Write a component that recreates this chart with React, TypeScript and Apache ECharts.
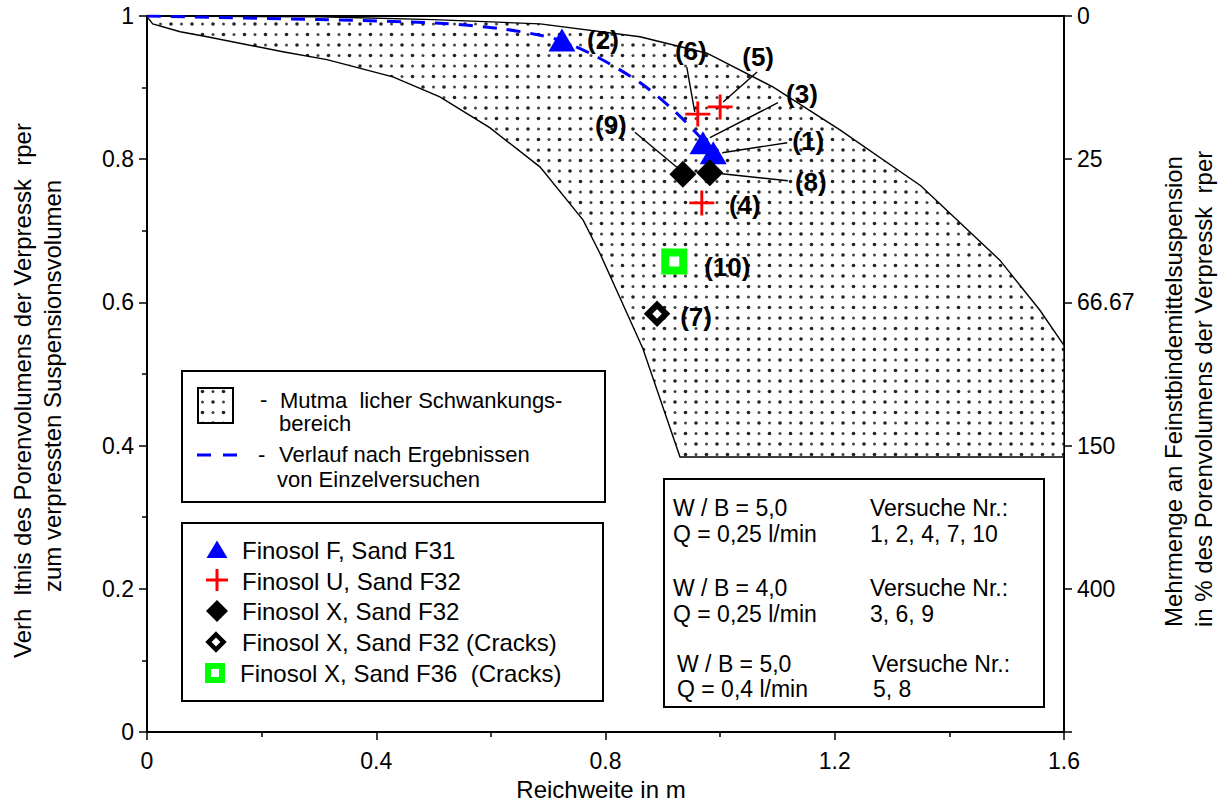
import React, { useEffect, useRef } from 'react';
import * as echarts from 'echarts';

// ---------- data ----------
// upper boundary of the probable scatter band (Schwankungsbereich)
const upperX = [0, 0.3, 0.5, 0.686, 0.86, 0.977, 1.092, 1.209, 1.35, 1.488, 1.558, 1.6];
const upperY = [1, 0.999, 0.995, 0.989, 0.971, 0.948, 0.901, 0.841, 0.763, 0.659, 0.589, 0.54];
// lower boundary of the band
const lowerX = [0, 0.002, 0.01, 0.058, 0.105, 0.237, 0.314, 0.429, 0.511, 0.598, 0.686, 0.761, 0.79, 0.865, 0.93];
const lowerY = [1, 0.997, 0.989, 0.978, 0.971, 0.95, 0.939, 0.915, 0.887, 0.844, 0.789, 0.715, 0.669, 0.536, 0.384];
const bandBottom = 0.384;

// dashed trend from single tests
const trendX = [0, 0.3, 0.51, 0.62, 0.686, 0.724, 0.785, 0.86, 0.918, 0.965, 0.975];
const trendY = [1, 0.995, 0.99, 0.982, 0.973, 0.965, 0.943, 0.907, 0.869, 0.831, 0.82];

// Finosol F, Sand F31 (tests 1, 2, 3)
const fNr = [1, 2, 3];
const fX = [0.988, 0.724, 0.97];
const fY = [0.809, 0.9665, 0.823];
// Finosol U, Sand F32 (tests 4, 5, 6)
const uNr = [4, 5, 6];
const uX = [0.968, 1.0, 0.961];
const uY = [0.739, 0.873, 0.863];
// Finosol X, Sand F32 (tests 8, 9)
const xNr = [8, 9];
const xX = [0.982, 0.935];
const xY = [0.781, 0.779];
// Finosol X, Sand F32 (Cracks) (test 7)
const xcNr = [7];
const xcX = [0.89];
const xcY = [0.584];
// Finosol X, Sand F36 (Cracks) (test 10)
const x36Nr = [10];
const x36X = [0.92];
const x36Y = [0.657];

const rightLabels = ['', '400', '150', '66.67', '25', '0'];

// ---------- layout of annotations (pixel offsets from the point) ----------
const annot: { nr: number; lx: number; ly: number; leader?: number[] }[] = [
  { nr: 1, lx: 95, ly: -12, leader: [74, -10, 9, 0] },
  { nr: 2, lx: 41, ly: 0 },
  { nr: 3, lx: 99, ly: -49, leader: [75, -40, 7, -5] },
  { nr: 4, lx: 43, ly: 2 },
  { nr: 5, lx: 38, ly: -50, leader: [37, -35, 3, -5] },
  { nr: 6, lx: -7, ly: -63, leader: [-11, -47, -3, -2] },
  { nr: 7, lx: 39, ly: 3 },
  { nr: 8, lx: 101, ly: 9, leader: [78, 8, 12, 1] },
  { nr: 9, lx: -72, ly: -49, leader: [-48, -42, -6, -7] },
  { nr: 10, lx: 53, ly: 5 },
];

const FONT = "'Liberation Sans', Arial, Helvetica, sans-serif";
const PLUS = 'path://M-1.5,-13H1.5V-1.5H13V1.5H1.5V13H-1.5V1.5H-13V-1.5H-1.5Z';

function makeDotPattern(): any {
  const c = document.createElement('canvas');
  c.width = 21;
  c.height = 21;
  const ctx = c.getContext('2d')!;
  ctx.fillStyle = '#ffffff';
  ctx.fillRect(0, 0, 21, 21);
  const dots: [number, number, number, string][] = [
    [3, 3, 1.8, '#222222'],
    [13.5, 3, 1.5, '#444444'],
    [3, 13.5, 1.5, '#444444'],
    [13.5, 13.5, 1.8, '#222222'],
  ];
  dots.forEach(([x, y, r, col]) => {
    ctx.fillStyle = col;
    ctx.beginPath();
    ctx.arc(x, y, r, 0, Math.PI * 2);
    ctx.fill();
  });
  return { image: c.toDataURL(), repeat: 'repeat', imageWidth: 21, imageHeight: 21 };
}

function txt(x: number, y: number, text: string, size: number, extra: any = {}) {
  return {
    type: 'text',
    x,
    y,
    silent: true,
    z: 100,
    ...extra,
    style: {
      text,
      fontSize: size,
      fontFamily: FONT,
      fill: '#000',
      align: 'left',
      verticalAlign: 'middle',
      ...(extra.style || {}),
    },
  };
}

export default function App() {
  const ref = useRef<HTMLDivElement>(null);

  useEffect(() => {
    if (!ref.current) return;
    const chart = echarts.init(ref.current, undefined, { renderer: 'svg' });
    const pattern = makeDotPattern();

    const polygon: number[][] = [];
    upperX.forEach((x, i) => polygon.push([x, upperY[i]]));
    polygon.push([upperX[upperX.length - 1], bandBottom]);
    for (let i = lowerX.length - 1; i >= 0; i--) polygon.push([lowerX[i], lowerY[i]]);

    const axisLineStyle = { color: '#000', width: 2 };
    const labelStyle = { color: '#000', fontSize: 23, fontFamily: FONT };

    chart.setOption({
      animation: false,
      grid: { left: 147, right: 154, top: 16, bottom: 71, show: true, borderColor: '#000', borderWidth: 2, backgroundColor: 'transparent' },
      xAxis: {
        type: 'value',
        min: 0,
        max: 1.6,
        interval: 0.4,
        axisLine: { show: true, lineStyle: axisLineStyle },
        axisTick: { show: true, length: 8, lineStyle: { color: '#000', width: 1.5 } },
        minorTick: { show: true, splitNumber: 2, length: 5, lineStyle: { color: '#000', width: 1.5 } },
        splitLine: { show: false },
        axisLabel: { ...labelStyle, margin: 17 },
      },
      yAxis: [
        {
          type: 'value',
          min: 0,
          max: 1,
          interval: 0.2,
          position: 'left',
          axisLine: { show: true, lineStyle: axisLineStyle },
          axisTick: { show: true, length: 8, lineStyle: { color: '#000', width: 1.5 } },
          minorTick: { show: true, splitNumber: 2, length: 5, lineStyle: { color: '#000', width: 1.5 } },
          splitLine: { show: false },
          axisLabel: { ...labelStyle, margin: 13 },
        },
        {
          type: 'value',
          min: 0,
          max: 1,
          interval: 0.2,
          position: 'right',
          axisLine: { show: true, lineStyle: axisLineStyle },
          axisTick: { show: true, length: 8, lineStyle: { color: '#000', width: 1.5 } },
          splitLine: { show: false },
          axisLabel: {
            ...labelStyle,
            margin: 13,
            formatter: (v: number) => rightLabels[Math.round(v / 0.2)] ?? '',
          },
        },
      ],
      series: [
        {
          type: 'custom',
          name: 'band',
          coordinateSystem: 'cartesian2d',
          silent: true,
          z: 1,
          data: [[0, 0]],
          renderItem: (_params: any, api: any) => ({
            type: 'polygon',
            shape: { points: polygon.map((p) => api.coord(p)) },
            style: { fill: pattern, stroke: '#000', lineWidth: 1.4 },
          }),
        },
        {
          type: 'line',
          name: 'trend',
          data: trendX.map((x, i) => [x, trendY[i]]),
          smooth: 0.3,
          showSymbol: false,
          symbol: 'none',
          z: 3,
          lineStyle: { color: '#0000ff', width: 3, type: [14, 10] },
        },
        {
          type: 'scatter',
          name: 'Finosol F, Sand F31',
          data: fX.map((x, i) => [x, fY[i]]),
          symbol: 'triangle',
          symbolSize: [27, 23],
          z: 5,
          itemStyle: { color: '#0000ff', opacity: 1 },
        },
        {
          type: 'scatter',
          name: 'Finosol U, Sand F32',
          data: uX.map((x, i) => [x, uY[i]]),
          symbol: PLUS,
          symbolSize: 25,
          z: 5,
          itemStyle: { color: '#ff0000', opacity: 1 },
        },
        {
          type: 'scatter',
          name: 'Finosol X, Sand F32',
          data: xX.map((x, i) => [x, xY[i]]),
          symbol: 'diamond',
          symbolSize: 27,
          z: 5,
          itemStyle: { color: '#000', opacity: 1 },
        },
        {
          type: 'scatter',
          name: 'Finosol X, Sand F32 (Cracks)',
          data: xcX.map((x, i) => [x, xcY[i]]),
          symbol: 'diamond',
          symbolSize: 18,
          z: 5,
          itemStyle: { color: '#fff', borderColor: '#000', borderWidth: 6, opacity: 1 },
        },
        {
          type: 'scatter',
          name: 'Finosol X, Sand F36 (Cracks)',
          data: x36X.map((x, i) => [x, x36Y[i]]),
          symbol: 'rect',
          symbolSize: 18,
          z: 5,
          itemStyle: { color: '#fff', borderColor: '#00ff00', borderWidth: 8, opacity: 1 },
        },
      ],
    });

    // ---- annotations positioned from data points via the chart's scales ----
    const pointMap: Record<number, number[]> = {};
    const reg = (nrs: number[], xs: number[], ys: number[]) =>
      nrs.forEach((n, i) => (pointMap[n] = [xs[i], ys[i]]));
    reg(fNr, fX, fY);
    reg(uNr, uX, uY);
    reg(xNr, xX, xY);
    reg(xcNr, xcX, xcY);
    reg(x36Nr, x36X, x36Y);

    const dyn: any[] = [];
    annot.forEach((a) => {
      const p = chart.convertToPixel({ xAxisIndex: 0, yAxisIndex: 0 }, pointMap[a.nr]) as number[];
      dyn.push(
        txt(p[0] + a.lx, p[1] + a.ly, `(${a.nr})`, 26, {
          style: { fontWeight: 'bold', align: 'center' },
        })
      );
      if (a.leader) {
        dyn.push({
          type: 'line',
          silent: true,
          z: 99,
          shape: { x1: p[0] + a.leader[0], y1: p[1] + a.leader[1], x2: p[0] + a.leader[2], y2: p[1] + a.leader[3] },
          style: { stroke: '#000', lineWidth: 1.4 },
        });
      }
    });

    const box = (x: number, y: number, w: number, h: number) => ({
      type: 'rect',
      silent: true,
      z: 90,
      shape: { x, y, width: w, height: h },
      style: { fill: '#fff', stroke: '#000', lineWidth: 2 },
    });

    const L2 = 24;
    const L3 = 23;
    const stat: any[] = [
      // legend 1
      box(182, 371, 423, 131),
      {
        type: 'rect',
        silent: true,
        z: 95,
        shape: { x: 198, y: 388, width: 35, height: 35 },
        style: { fill: pattern, stroke: '#000', lineWidth: 2 },
      },
      txt(260, 399, '-', 22),
      txt(280, 400, 'Mutma  licher Schwankungs-', 22),
      txt(279, 423, 'bereich', 22),
      {
        type: 'line',
        silent: true,
        z: 95,
        shape: { x1: 197, y1: 455, x2: 240, y2: 455 },
        style: { stroke: '#0000ff', lineWidth: 3, lineDash: [14, 12] },
      },
      txt(258, 454, '-', 22),
      txt(279, 454, 'Verlauf nach Ergebnissen', 22),
      txt(277, 479, 'von Einzelversuchen', 22),
      // legend 2
      box(182, 523, 421, 178),
      {
        type: 'polygon',
        silent: true,
        z: 95,
        shape: { points: [[217, 540.5], [227.5, 558], [206.5, 558]] },
        style: { fill: '#0000ff' },
      },
      { type: 'rect', silent: true, z: 95, shape: { x: 206, y: 578.5, width: 22, height: 3 }, style: { fill: '#ff0000' } },
      { type: 'rect', silent: true, z: 95, shape: { x: 215.5, y: 569, width: 3, height: 22 }, style: { fill: '#ff0000' } },
      {
        type: 'polygon',
        silent: true,
        z: 95,
        shape: { points: [[217, 600], [228, 611], [217, 622], [206, 611]] },
        style: { fill: '#000' },
      },
      {
        type: 'polygon',
        silent: true,
        z: 95,
        shape: { points: [[216, 634.5], [223.5, 642], [216, 649.5], [208.5, 642]] },
        style: { fill: '#fff', stroke: '#000', lineWidth: 4.5 },
      },
      {
        type: 'rect',
        silent: true,
        z: 95,
        shape: { x: 208, y: 666, width: 14, height: 14 },
        style: { fill: '#fff', stroke: '#00ff00', lineWidth: 6 },
      },
      txt(242, 550, 'Finosol F, Sand F31', L2),
      txt(242, 581, 'Finosol U, Sand F32', L2),
      txt(242, 611, 'Finosol X, Sand F32', L2),
      txt(242, 642, 'Finosol X, Sand F32 (Cracks)', L2),
      txt(240, 673, 'Finosol X, Sand F36  (Cracks)', L2),
      // legend 3
      box(664, 479, 380, 228),
      txt(673, 508, 'W / B = 5,0', L3),
      txt(673, 534, 'Q = 0,25 l/min', L3),
      txt(870, 508, 'Versuche Nr.:', L3),
      txt(870, 534, '1, 2, 4, 7, 10', L3),
      txt(673, 588, 'W / B = 4,0', L3),
      txt(673, 614, 'Q = 0,25 l/min', L3),
      txt(870, 588, 'Versuche Nr.:', L3),
      txt(870, 614, '3, 6, 9', L3),
      txt(677, 664, 'W / B = 5,0', L3),
      txt(677, 689, 'Q = 0,4 l/min', L3),
      txt(872, 664, 'Versuche Nr.:', L3),
      txt(873, 689, '5, 8', L3),
      // axis titles
      txt(601, 789, 'Reichweite in m', 24, { style: { align: 'center' } }),
      txt(22, 658, 'Verh  ltnis des Porenvolumens der Verpressk  rper', 24, { rotation: Math.PI / 2 }),
      txt(52, 592, 'zum verpressten Suspensionsvolumen', 24, { rotation: Math.PI / 2 }),
      txt(1173, 627, 'Mehrmenge an Feinstbindemittelsuspension', 24, { rotation: Math.PI / 2 }),
      txt(1203, 627, 'in % des Porenvolumens der Verpressk  rper', 24, { rotation: Math.PI / 2 }),
    ];

    chart.setOption({ graphic: { elements: [...stat, ...dyn] } });

    return () => chart.dispose();
  }, []);

  return (
    <div
      ref={ref}
      style={{ position: 'fixed', left: 0, top: 0, width: 1218, height: 803, background: '#fff' }}
    />
  );
}
